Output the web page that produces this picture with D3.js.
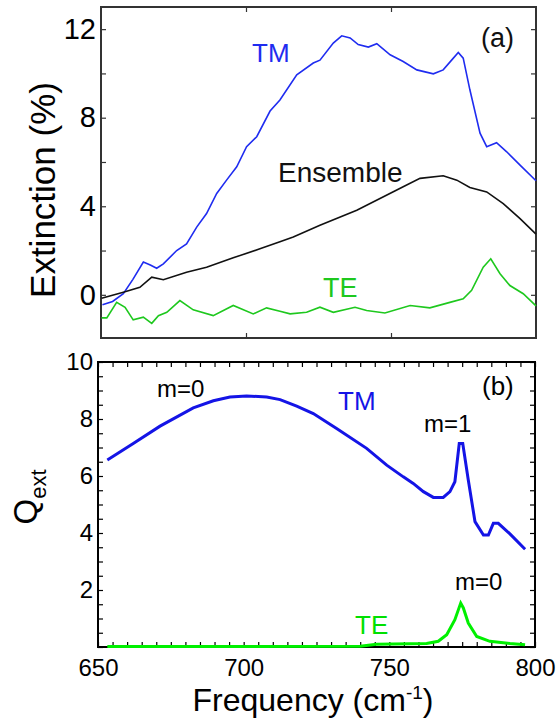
<!DOCTYPE html>
<html>
<head>
<meta charset="utf-8">
<script src="https://cdn.jsdelivr.net/npm/d3@7"></script>
<style>
  body { margin: 0; background: #fff; }
  svg { font-family: "Liberation Sans", Arial, Helvetica, sans-serif; }
</style>
</head>
<body>
<div id="chart"></div>
<script>
// panel (a): measured extinction, [frequency, %]
var tmA = [[650.5,-0.45],[654,-0.3],[657.7,0.05],[661,0.7],[664.6,1.48],[667,1.35],[669.2,1.2],[671.5,1.4],[676.1,2.0],[679.5,2.3],[683,3.06],[686.4,3.67],[689.9,4.58],[693.3,5.18],[696.8,5.78],[700.2,6.69],[703.7,7.14],[708.3,8.3],[711.7,8.8],[717.5,9.94],[723.2,10.47],[725.5,10.6],[730.1,11.37],[733,11.7],[735.9,11.6],[738.7,11.3],[742.2,11.19],[745.1,11.34],[749.7,10.84],[754.2,10.54],[758.9,10.16],[764.6,9.98],[768,10.16],[770.9,10.6],[773.2,10.95],[774.9,10.69],[777.2,9.26],[780.7,7.3],[783,6.69],[786.4,6.87],[789.9,6.46],[794.5,5.86],[800,5.15]];
var ensembleA = [[650.2,-0.15],[657.7,0.12],[663.4,0.34],[667.5,0.8],[671.5,0.68],[679.5,1.02],[686.4,1.25],[695.6,1.67],[704.8,2.08],[711.7,2.4],[716.3,2.61],[725.5,3.14],[738.2,3.82],[746.2,4.35],[754.2,4.88],[760,5.26],[768,5.38],[772.7,5.18],[777.2,4.85],[783,4.65],[788.7,4.12],[794.5,3.44],[800,2.74]];
var teA = [[650.2,-1.04],[652,-1.04],[655.4,-0.34],[658.3,-0.56],[661.1,-1.13],[664.6,-1.01],[667.5,-1.29],[669.8,-0.94],[672.7,-0.79],[677.2,-0.26],[681.8,-0.68],[688.7,-0.94],[695.6,-0.48],[702.5,-0.86],[707.1,-0.59],[711.7,-0.74],[715.2,-0.86],[720.9,-0.79],[725.5,-0.56],[730.1,-0.79],[737.6,-0.56],[741.6,-0.71],[747.9,-0.82],[756.6,-0.48],[763.4,-0.59],[770.3,-0.34],[774.9,-0.18],[777.8,0.2],[781.8,1.25],[784.4,1.63],[787.6,0.95],[791,0.42],[795.6,0.05],[800,-0.5]];

// panel (b): calculated Q_ext
var tmB = [[653.2,6.56],[662.1,7.14],[671.3,7.75],[682.7,8.39],[689.6,8.64],[695.3,8.77],[701,8.81],[707.9,8.77],[712.5,8.68],[718.2,8.45],[723.9,8.19],[731.9,7.67],[742.2,6.97],[749.1,6.38],[754.8,5.97],[758.2,5.74],[761.7,5.45],[765.1,5.25],[768.5,5.25],[770.8,5.45],[772.5,5.8],[774,7.14],[775.2,7.14],[777.1,5.86],[779.4,4.4],[782.3,3.93],[784,3.93],[785.7,4.34],[787.4,4.34],[791.4,3.97],[796.6,3.43]];
var teB = [[653.2,0.02],[700,0.02],[740,0.03],[745.6,0.1],[762.8,0.12],[766.8,0.2],[769.7,0.43],[772.5,0.96],[774.5,1.54],[775.4,1.37],[777.1,0.84],[780,0.37],[784.5,0.2],[791.4,0.12],[796.6,0.08]];

var xTicks = [650, 700, 750, 800];
var yTicksA = [0, 4, 8, 12];
var yTicksB = [2, 4, 6, 8, 10];

var svg = d3.select("#chart").append("svg")
    .attr("width", 560)
    .attr("height", 725);

var font = "Liberation Sans, Arial, Helvetica, sans-serif";

// ---------- panel (a)
var xa = d3.scaleLinear().domain([650, 800]).range([101, 536]);
var ya = d3.scaleLinear().domain([-1.95, 13]).range([338, 7]);

var gA = svg.append("g");

gA.append("g")
    .attr("transform", "translate(" + xa.range()[0] + ",0)")
    .call(d3.axisLeft(ya).tickValues(d3.range(0, 13, 2)).tickSize(-5).tickPadding(5)
      .tickFormat(function(d) { return yTicksA.indexOf(d) >= 0 ? d : ""; }))
    .call(styleAxis, 29, "#333");
gA.append("g")
    .attr("transform", "translate(" + xa.range()[1] + ",0)")
    .call(d3.axisRight(ya).tickValues(d3.range(0, 13, 2)).tickSize(-5).tickFormat(""))
    .call(styleAxis, 29, "#333");
gA.append("g")
    .attr("transform", "translate(0," + ya.range()[0] + ")")
    .call(d3.axisBottom(xa).tickValues([700, 750]).tickSize(-5).tickFormat(""))
    .call(styleAxis, 29, "#333");
gA.append("g")
    .attr("transform", "translate(0," + ya.range()[1] + ")")
    .call(d3.axisTop(xa).tickValues([700, 750]).tickSize(-5).tickFormat(""))
    .call(styleAxis, 29, "#333");

gA.append("rect")
    .attr("x", xa.range()[0]).attr("y", ya.range()[1])
    .attr("width", xa.range()[1] - xa.range()[0])
    .attr("height", ya.range()[0] - ya.range()[1])
    .attr("fill", "none").attr("stroke", "#333").attr("stroke-width", 2);

var lineA = d3.line().x(function(d) { return xa(d[0]); }).y(function(d) { return ya(d[1]); });

gA.append("path").datum(tmA).attr("d", lineA)
    .attr("fill", "none").attr("stroke", "#1f2cf0").attr("stroke-width", 1.6);
gA.append("path").datum(ensembleA).attr("d", lineA)
    .attr("fill", "none").attr("stroke", "#111").attr("stroke-width", 1.6);
gA.append("path").datum(teA).attr("d", lineA)
    .attr("fill", "none").attr("stroke", "#1ec81e").attr("stroke-width", 1.6);

gA.append("text").attr("x", 252).attr("y", 62).attr("fill", "#1f2cf0")
    .style("font-size", "26px").text("TM");
gA.append("text").attr("x", 278).attr("y", 182).attr("fill", "#111")
    .style("font-size", "28px").text("Ensemble");
gA.append("text").attr("x", 323).attr("y", 297).attr("fill", "#1ec81e")
    .style("font-size", "27px").text("TE");
gA.append("text").attr("x", 481).attr("y", 47).attr("fill", "#111")
    .style("font-size", "27px").text("(a)");

gA.append("text")
    .attr("transform", "translate(55,190) rotate(-90)")
    .attr("text-anchor", "middle")
    .style("font-size", "35px")
    .text("Extinction (%)");

// ---------- panel (b)
var xb = d3.scaleLinear().domain([650, 800]).range([98, 535]);
var yb = d3.scaleLinear().domain([0, 10]).range([647, 362]);

var gB = svg.append("g");

gB.append("g")
    .attr("transform", "translate(" + xb.range()[0] + ",0)")
    .call(d3.axisLeft(yb).tickValues(d3.range(0, 10.01, 0.5)).tickSize(-5).tickPadding(5)
      .tickFormat(function(d) { return yTicksB.indexOf(d) >= 0 ? d : ""; }))
    .call(styleAxis, 24, "#000");
gB.append("g")
    .attr("transform", "translate(" + xb.range()[1] + ",0)")
    .call(d3.axisRight(yb).tickValues(d3.range(0, 10.01, 0.5)).tickSize(-5).tickFormat(""))
    .call(styleAxis, 24, "#000");
gB.append("g")
    .attr("transform", "translate(0," + yb.range()[0] + ")")
    .call(d3.axisBottom(xb).tickValues(d3.range(650, 800.1, 5)).tickSize(-5).tickPadding(12)
      .tickFormat(function(d) { return xTicks.indexOf(d) >= 0 ? d : ""; }))
    .call(styleAxis, 24, "#000");
gB.append("g")
    .attr("transform", "translate(0," + yb.range()[1] + ")")
    .call(d3.axisTop(xb).tickValues(d3.range(650, 800.1, 5)).tickSize(-5).tickFormat(""))
    .call(styleAxis, 24, "#000");

gB.append("rect")
    .attr("x", xb.range()[0]).attr("y", yb.range()[1])
    .attr("width", xb.range()[1] - xb.range()[0])
    .attr("height", yb.range()[0] - yb.range()[1])
    .attr("fill", "none").attr("stroke", "#000").attr("stroke-width", 2);

var lineB = d3.line().x(function(d) { return xb(d[0]); }).y(function(d) { return yb(d[1]); });

gB.append("path").datum(teB).attr("d", lineB)
    .attr("fill", "none").attr("stroke", "#00f000").attr("stroke-width", 3);
gB.append("path").datum(tmB).attr("d", lineB)
    .attr("fill", "none").attr("stroke", "#1414e6").attr("stroke-width", 3);

gB.append("text").attr("x", 157).attr("y", 397).style("font-size", "24px").text("m=0");
gB.append("text").attr("x", 338).attr("y", 410).attr("fill", "#1414e6").style("font-size", "26px").text("TM");
gB.append("text").attr("x", 424).attr("y", 432).style("font-size", "24px").text("m=1");
gB.append("text").attr("x", 482).attr("y", 395).style("font-size", "26px").text("(b)");
gB.append("text").attr("x", 455).attr("y", 590).style("font-size", "24px").text("m=0");
gB.append("text").attr("x", 355).attr("y", 634).attr("fill", "#00e000").style("font-size", "26px").text("TE");

var q = gB.append("text")
    .attr("transform", "translate(37,497) rotate(-90)")
    .attr("text-anchor", "middle")
    .style("font-size", "33px");
q.append("tspan").text("Q");
q.append("tspan").attr("dy", 9).style("font-size", "22px").text("ext");

var fx = gB.append("text")
    .attr("x", 313).attr("y", 711)
    .attr("text-anchor", "middle")
    .style("font-size", "32px");
fx.append("tspan").text("Frequency (cm");
fx.append("tspan").attr("dy", -12).style("font-size", "19px").text("-1");
fx.append("tspan").attr("dy", 12).text(")");

function styleAxis(g, size, color) {
  g.select(".domain").remove();
  g.selectAll(".tick line").attr("stroke", color).attr("stroke-width", 1.2);
  g.selectAll(".tick text")
    .attr("fill", "#000")
    .style("font-size", size + "px")
    .style("font-family", font);
}
</script>
</body>
</html>
